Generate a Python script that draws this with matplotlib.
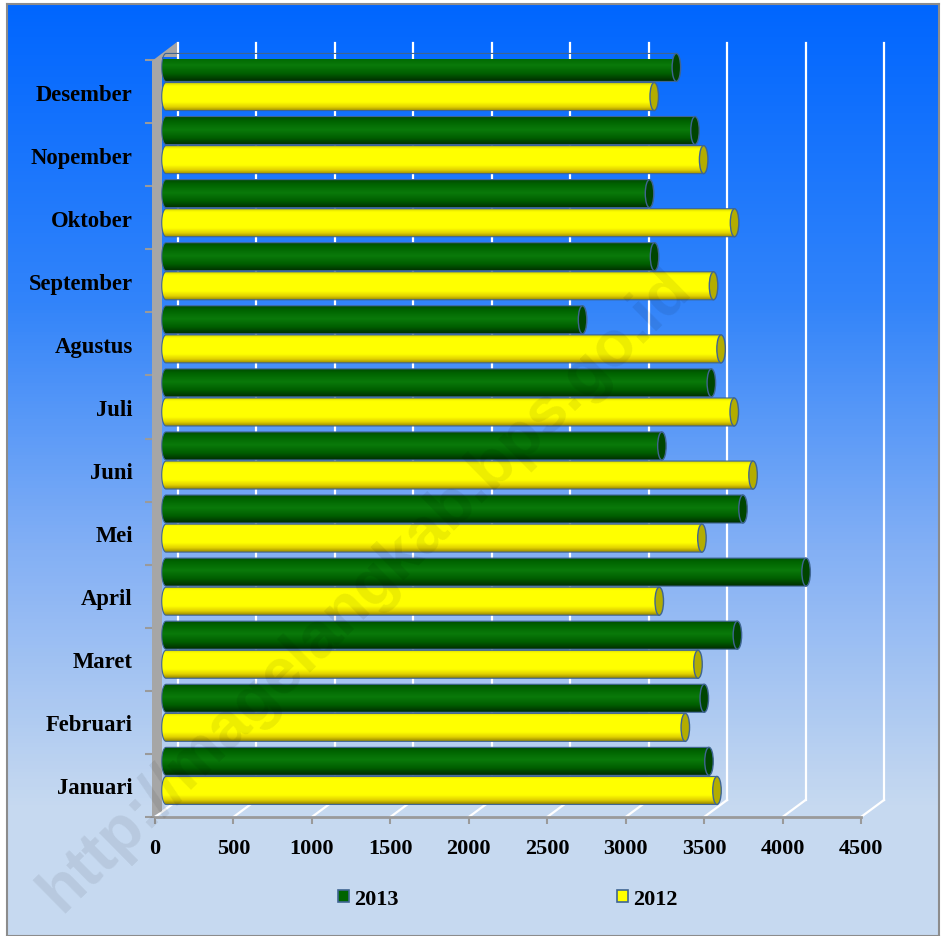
import numpy as np
import matplotlib
matplotlib.use("Agg")
import matplotlib.pyplot as plt
from matplotlib.colors import LinearSegmentedColormap
from matplotlib.patches import Ellipse, PathPatch, Rectangle, Polygon
from matplotlib.path import Path
from matplotlib.ticker import FixedLocator

# values
months = ["Januari", "Februari", "Maret", "April", "Mei", "Juni",
          "Juli", "Agustus", "September", "Oktober", "Nopember", "Desember"]
val_2013 = [3461, 3431, 3642, 4080, 3678, 3161, 3476, 2655, 3114, 3082, 3372, 3253]
val_2012 = [3512, 3310, 3391, 3144, 3416, 3742, 3622, 3538, 3490, 3624, 3427, 3112]
xticks = list(range(0, 5000, 500))

plt.rcParams["font.family"] = "Liberation Serif"

W, H = 941, 937
fig = plt.figure(figsize=(W / 100, H / 100), dpi=100, facecolor="white")

# blue gradient background with thin grey border
bg = fig.add_axes([7 / W, 0, 932 / W, 932 / H], zorder=0)
bg_cmap = LinearSegmentedColormap.from_list(
    "bg", [(0, "#0066ff"), (0.32, "#3284fa"), (0.58, "#82aff5"),
           (0.86, "#c6d9f0"), (1, "#c6d9f0")])
bg.imshow(np.linspace(0, 1, 256)[:, None], cmap=bg_cmap, aspect="auto",
          extent=[0, 1, 0, 1], origin="upper")
bg.set_xticks([])
bg.set_yticks([])
for sp in bg.spines.values():
    sp.set_color("#8c8c8c")
    sp.set_linewidth(1.5)

# front plane of the pseudo-3D plot
ax = fig.add_axes([155 / W, (H - 818) / H, 706 / W, 757 / H], zorder=1)
ax.patch.set_visible(False)
UX = 4500 / 706   # data units per pixel
UY = 12 / 757
DX, DY = 23 * UX, 17 * UY   # depth offset of the back wall
EDGE = "#3f6592"

# back wall gridlines + floor diagonals
for v in xticks:
    ax.plot([v + DX, v + DX], [-0.5 + DY, 11.5 + DY], color="white", lw=1.6,
            clip_on=False, zorder=1)
    ax.plot([v, v + DX], [-0.5, -0.5 + DY], color="white", lw=1.6,
            clip_on=False, zorder=1)


def px(x, y):
    return ((x - 155) * UX, -0.5 + (818 - y) * UY)


wall = Polygon([px(152, 818), px(152, 62), px(177, 43), px(177, 58),
                px(162, 58), px(162, 812)], closed=True,
               facecolor="#a6a6a6", edgecolor="none", clip_on=False, zorder=2)
ax.add_patch(wall)

green_grad = LinearSegmentedColormap.from_list(
    "g", [(0, "#004d00"), (0.15, "#006400"), (0.45, "#0a7a0a"),
          (0.75, "#005e00"), (1, "#002e00")])(np.linspace(0, 1, 64))[:, :3]
yellow_grad = LinearSegmentedColormap.from_list(
    "y", [(0, "#dada00"), (0.1, "#ffff00"), (0.68, "#ffff00"),
          (0.86, "#e2d200"), (1, "#9a8a00")])(np.linspace(0, 1, 64))[:, :3]

x0 = 11 * UX
capw = 8.5 * UX
bar_h = 28 * UY


def cylinder(length, yc, grad, cap_color, z):
    top, bot = yc + bar_h / 2, yc - bar_h / 2
    x1 = x0 + length
    a = capw / 2
    t = np.linspace(0, np.pi, 30)
    verts = [(x1, top)] + list(zip(x0 - a * np.sin(t), yc + bar_h / 2 * np.cos(t)))
    verts += [(x1, bot), (x1, top)]
    outline = PathPatch(Path(verts), facecolor="none", edgecolor=EDGE, lw=0.8,
                        clip_on=False, zorder=z + 0.1)
    ax.add_patch(outline)
    im = ax.imshow(grad[:, None, :], extent=[x0 - a, x1, bot, top], aspect="auto",
                   origin="upper", interpolation="bilinear", zorder=z)
    im.set_clip_path(outline)
    im.set_clip_box(None)
    ax.add_patch(Ellipse((x1, yc), capw, bar_h, facecolor=cap_color, edgecolor=EDGE,
                         lw=1.0, clip_on=False, zorder=z + 0.2))


for i in range(len(months)):
    cylinder(val_2013[i], i + 24.1 * UY, green_grad, "#004500", 3)
    cylinder(val_2012[i], i - 5 * UY, yellow_grad, "#b3ad00", 3)

ax.set_xlim(0, 4500)
ax.set_ylim(-0.5, 11.5)
ax.set_xticks(xticks)
ax.set_xticklabels([str(v) for v in xticks], fontsize=16, fontweight="bold")
ax.set_yticks(range(len(months)))
ax.set_yticklabels(months, fontsize=16.3, fontweight="bold")
ax.yaxis.set_minor_locator(FixedLocator(np.arange(-0.5, 12, 1)))
ax.tick_params(axis="x", length=5, width=1.5, color="#9a9a9a", pad=10)
ax.tick_params(axis="y", which="major", length=0, pad=16)
ax.tick_params(axis="y", which="minor", length=7, width=1.5, color="#9a9a9a")
for side in ["top", "right", "left"]:
    ax.spines[side].set_visible(False)
ax.spines["bottom"].set_color("#9a9a9a")
ax.spines["bottom"].set_linewidth(2)

handles = [Rectangle((0, 0), 1, 1, facecolor="#006400", edgecolor=EDGE, lw=1.2),
           Rectangle((0, 0), 1, 1, facecolor="#ffff00", edgecolor=EDGE, lw=1.2)]
fig.legend(handles, ["2013", "2012"], loc="center",
           bbox_to_anchor=(508 / W, 1 - 900 / H), ncol=2, frameon=False,
           prop=dict(family="Liberation Serif", weight="bold", size=16),
           handlelength=0.5, handleheight=0.5, handletextpad=0.25,
           columnspacing=9.8)

# diagonal watermark
fig.text(365 / W, 1 - 590 / H, "http://magelangkab.bps.go.id", rotation=44.6,
         rotation_mode="anchor", ha="center", va="center", fontsize=46,
         fontweight="bold", family="Liberation Sans", color="black", alpha=0.075,
         zorder=10)

fig.savefig("out.png", dpi=100, facecolor="white")
